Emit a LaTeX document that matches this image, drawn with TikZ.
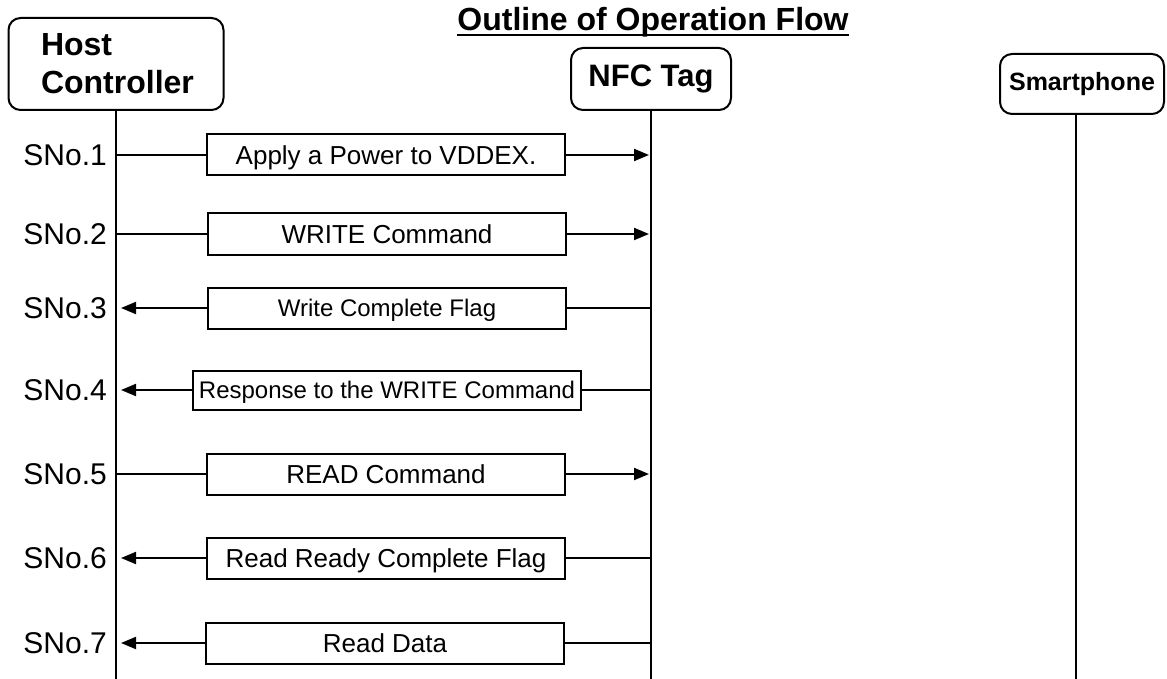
\documentclass[tikz,border=0pt]{standalone}
\usepackage{fontspec}
\setmainfont{Liberation Sans}
\usetikzlibrary{arrows.meta}
\begin{document}
\begin{tikzpicture}[x=1pt,y=-1pt,
  actor/.style={draw, line width=2pt, rounded corners=12pt, fill=white,
                inner sep=0pt, font=\bfseries\fontsize{31}{38}\selectfont},
  msgbox/.style={draw, line width=2pt, fill=white, inner sep=0pt,
                 minimum width=358pt, minimum height=41pt,
                 text height=18.6pt, text depth=0pt,
                 font=\fontsize{26}{30}\selectfont},
  smalltext/.style={font=\fontsize{24}{28}\selectfont, text height=17.2pt},
  steplabel/.style={anchor=east, inner sep=0pt, font=\fontsize{30}{34}\selectfont},
  life/.style={line width=2pt},
  wire/.style={line width=2pt},
  tip/.style={-{Triangle[length=15pt,width=12pt]}}
]
\useasboundingbox (0,0) rectangle (1167,679);

% title
\node[inner sep=0pt, anchor=base, font=\bfseries\fontsize{32}{38}\selectfont]
  (title) at (653,31) {Outline of Operation Flow};
\draw[line width=2pt] ([yshift=-4pt]title.base west) -- ([yshift=-4pt]title.base east);

% participants
\node[actor, minimum width=215pt, minimum height=92pt, text width=150pt, align=left,
      font=\bfseries\fontsize{32}{38}\selectfont]
  (host) at (116,64) {Host\\Controller};
\node[actor, minimum width=160pt, minimum height=62pt] (nfc) at (651,79) {NFC Tag};
\node[actor, minimum width=164pt, minimum height=60pt,
      font=\bfseries\fontsize{25}{30}\selectfont] (phone) at (1082,84) {Smartphone};

% lifelines
\coordinate (hostend) at (116,679);
\coordinate (nfcend) at (651,679);
\coordinate (phoneend) at (1076,679);
\draw[life] (host.south) -- (hostend);
\draw[life] (nfc.south) -- (nfcend);
\draw[life] (phone.south -| phoneend) -- (phoneend);

% lifeline points of each step
\foreach \i/\y in {1/155,2/234,3/308,4/390,5/474,6/558,7/643}{
  \coordinate (h\i) at (116,\y);
  \coordinate (n\i) at (651,\y);
  \node[steplabel] (s\i) at (107,\y) {SNo.\i};
}

% messages
\node[msgbox] (m1) at (386,155) {Apply a Power to VDDEX.};
\node[msgbox] (m2) at (387,234) {WRITE Command};
\node[msgbox, smalltext] (m3) at (387,308) {Write Complete Flag};
\node[msgbox, smalltext, minimum width=388pt, minimum height=39pt] (m4) at (387,390) {Response to the WRITE Command};
\node[msgbox] (m5) at (386,474) {READ Command};
\node[msgbox] (m6) at (386,558) {Read Ready Complete Flag};
\node[msgbox] (m7) at (385,643) {Read Data};

% host -> tag
\foreach \i in {1,2,5}{
  \draw[wire] (h\i) -- (m\i.west);
  \draw[wire, tip, shorten >=2pt] (m\i.east) -- (n\i);
}
% tag -> host
\foreach \i in {3,4,6,7}{
  \draw[wire] (n\i) -- (m\i.east);
  \draw[wire, tip, shorten >=5pt] (m\i.west) -- (h\i);
}
\end{tikzpicture}
\end{document}
